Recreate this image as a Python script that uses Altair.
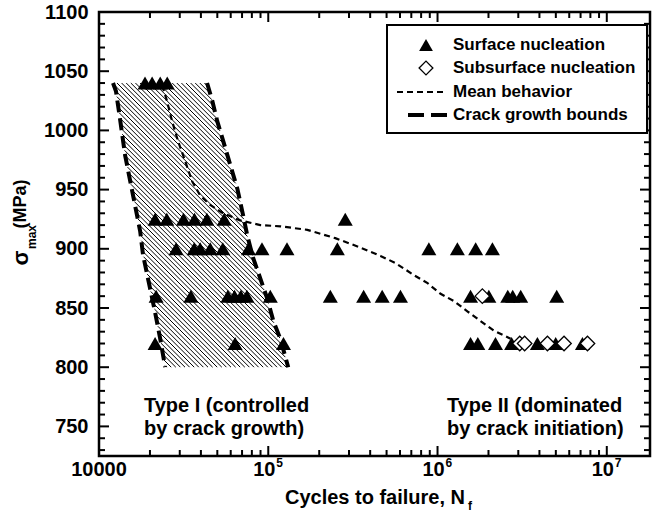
import altair as alt
import pandas as pd
import numpy as np

# ---------------- data ----------------
# Surface nucleation (filled triangles), grouped by stress level (MPa)
surf_1040_N = [18700, 20600, 23000, 25300]
surf_925_N = [21450, 25150, 31550, 36650, 43400, 54900, 285000]
surf_900_N = [28550, 36500, 39600, 45400, 53900, 76400, 91800, 129000, 256000,
              889000, 1310000, 1680000, 2110000]
surf_860_N = [21750, 34900, 57700, 63200, 68900, 74800, 102800, 232600, 366000,
              471000, 604000, 1567000, 2010000, 2600000, 2780000, 3100000, 5060000]
surf_820_N = [21450, 63700, 123000, 1567000, 1730000, 2200000, 2740000, 3890000,
              4990000, 7180000]

# Subsurface nucleation (open diamonds)
sub_860_N = [1840000]
sub_820_N = [3060000, 3270000, 4460000, 5590000, 7690000]

# Mean behavior curve
mean_N = [23600, 25200, 27000, 29300, 32300, 35500, 39600, 45400, 54200, 68200,
          89700, 117800, 170200, 248900, 336500, 460300, 563600, 721100, 873000,
          1042000, 1245000, 1507000, 1795000, 2143000, 2704000]
mean_S = [1038, 1025, 1008, 991, 974, 957, 945, 937, 930, 924, 920, 919, 916, 909,
          902, 894, 888, 878, 871, 862, 856, 847, 839, 831, 824]

# Crack growth bounds
left_bound_N = [12100, 12600, 13300, 14260, 15900, 17500, 18200, 20000, 21400, 23000, 24600]
left_bound_S = [1040, 1033, 1010, 979, 945, 915, 895, 867, 847, 824, 800]
right_bound_N = [43500, 46700, 49900, 54200, 59600, 65600, 71100, 75200, 81500, 89700,
                 98600, 107200, 117800, 131200]
right_bound_S = [1040, 1025, 1008, 991, 971, 951, 928, 911, 892, 875, 858, 839, 824, 800]

# Axis ticks
y_major = [750, 800, 850, 900, 950, 1000, 1050, 1100]
y_minor = [v for v in range(730, 1100, 10) if v % 50 != 0]
x_major = [1e5, 1e6, 1e7]
x_minor = [m * 10 ** k for k in (4, 5, 6) for m in range(2, 10)]
x_exp_labels = ["5", "6", "7"]

# ---------------- layout ----------------
W, H = 551, 444
XDOM = [1e4, 1.8e7]
YDOM = [725, 1100]
PX_DEC = W / np.log10(XDOM[1] / XDOM[0])
PX_MPA = H / (YDOM[1] - YDOM[0])
FONT = "Liberation Sans"
FS = 20

xs = alt.Scale(type="log", domain=XDOM, nice=False)
ys = alt.Scale(domain=YDOM, nice=False, zero=False)

def rows(Ns, S):
    return [{"N": n, "S": S} for n in Ns]

surf_df = pd.DataFrame(rows(surf_1040_N, 1040) + rows(surf_925_N, 925) + rows(surf_900_N, 900)
                       + rows(surf_860_N, 860) + rows(surf_820_N, 820))
sub_df = pd.DataFrame(rows(sub_860_N, 860) + rows(sub_820_N, 820))
mean_df = pd.DataFrame({"N": mean_N, "S": mean_S, "o": range(len(mean_N))})
lb_df = pd.DataFrame({"N": left_bound_N, "S": left_bound_S, "o": range(len(left_bound_N))})
rb_df = pd.DataFrame({"N": right_bound_N, "S": right_bound_S, "o": range(len(right_bound_N))})

# hatch lines clipped to the region between the two bounds
sig = np.linspace(800, 1040, 2401)
L = np.interp(sig, left_bound_S[::-1], np.log10(left_bound_N)[::-1])
R = np.interp(sig, right_bound_S[::-1], np.log10(right_bound_N)[::-1])
Ypx = (YDOM[1] - sig) * PX_MPA
hatch = []
for c in np.arange(-200, 400, 4.6):
    u = 4 + (Ypx - c) / PX_DEC
    idx = np.where((u >= L) & (u <= R))[0]
    if len(idx) > 1:
        i0, i1 = idx[0], idx[-1]
        hatch.append({"N": 10 ** u[i0], "S": sig[i0], "N2": 10 ** u[i1], "S2": sig[i1]})
hatch_df = pd.DataFrame(hatch)

one = pd.DataFrame({"a": [0]})

yaxis = alt.Axis(values=y_major, format="d", ticks=False, domain=False, grid=False, title=None,
                 labelFont=FONT, labelFontSize=FS, labelFontWeight="bold",
                 labelColor="black", labelPadding=11)

X = lambda f: alt.X(f, scale=xs, axis=None)
Y = lambda f: alt.Y(f, scale=ys, axis=yaxis)

hatch_layer = alt.Chart(hatch_df).mark_rule(color="black", strokeWidth=1).encode(
    x=X("N:Q"), x2="N2:Q", y=Y("S:Q"), y2="S2:Q")

lb_layer = alt.Chart(lb_df).mark_line(color="black", strokeWidth=4, strokeDash=[12, 6]).encode(
    x=X("N:Q"), y=Y("S:Q"), order="o:Q")
rb_layer = alt.Chart(rb_df).mark_line(color="black", strokeWidth=4, strokeDash=[12, 6]).encode(
    x=X("N:Q"), y=Y("S:Q"), order="o:Q")
mean_layer = alt.Chart(mean_df).mark_line(color="black", strokeWidth=2.2, strokeDash=[6, 4]).encode(
    x=X("N:Q"), y=Y("S:Q"), order="o:Q")

surf_layer = alt.Chart(surf_df).mark_point(shape="triangle-up", filled=True, color="black",
                                           size=225, opacity=1).encode(x=X("N:Q"), y=Y("S:Q"))
sub_layer = alt.Chart(sub_df).mark_point(shape="diamond", filled=True, fill="white", stroke="black",
                                         strokeWidth=1.3, size=210, opacity=1).encode(
    x=X("N:Q"), y=Y("S:Q"))

# inward ticks on all four sides
ymaj_df = pd.DataFrame({"S": y_major})
ymin_df = pd.DataFrame({"S": y_minor})
xmaj_df = pd.DataFrame({"N": x_major})
xmin_df = pd.DataFrame({"N": x_minor})

def yticks(df, ln):
    l = alt.Chart(df).mark_rule(color="black", strokeWidth=2).encode(
        y=Y("S:Q"), x=alt.value(0), x2=alt.value(ln))
    r = alt.Chart(df).mark_rule(color="black", strokeWidth=2).encode(
        y=Y("S:Q"), x=alt.value(W), x2=alt.value(W - ln))
    return l + r

def xticks(df, ln):
    b = alt.Chart(df).mark_rule(color="black", strokeWidth=2).encode(
        x=X("N:Q"), y=alt.value(H), y2=alt.value(H - ln))
    t = alt.Chart(df).mark_rule(color="black", strokeWidth=2).encode(
        x=X("N:Q"), y=alt.value(0), y2=alt.value(ln))
    return b + t

ticks = yticks(ymaj_df, 10) + yticks(ymin_df, 6) + xticks(xmaj_df, 10) + xticks(xmin_df, 6)

# x tick labels
xlab_df = pd.DataFrame({"N": x_major, "e": x_exp_labels})
x10 = alt.Chart(xlab_df).mark_text(font=FONT, fontSize=FS, fontWeight="bold", color="black",
                                   align="center", baseline="middle", dx=-4, text="10").encode(
    x=X("N:Q"), y=alt.value(H + 14))
xexp = alt.Chart(xlab_df).mark_text(font=FONT, fontSize=12, fontWeight="bold", color="black",
                                    align="left", baseline="middle", dx=8).encode(
    x=X("N:Q"), y=alt.value(H + 7), text="e:N")
x1e4 = alt.Chart(pd.DataFrame({"N": [1e4]})).mark_text(
    font=FONT, fontSize=FS, fontWeight="bold", color="black", align="center",
    baseline="middle", text="10000").encode(x=X("N:Q"), y=alt.value(H + 14))

def label(txt, x, y, size=FS, align="left", angle=0):
    kw = dict(font=FONT, fontSize=size, fontWeight="bold", color="black", align=align,
              baseline="middle", text=txt)
    if angle:
        kw["angle"] = angle
    return alt.Chart(one).mark_text(**kw).encode(x=alt.value(x), y=alt.value(y))

texts = (label("Cycles to failure,  N", 366, H + 42, align="right")
         + label("f", 369, H + 50, size=12)
         + label("σ", -78, 246, size=22, align="center", angle=270)
         + label("max", -67, 225, size=12, align="center", angle=270)
         + label("(MPa)", -78, 192, size=18, align="center", angle=270)
         + label("Type I (controlled", 45, 394)
         + label("by crack growth)", 45, 417)
         + label("Type II (dominated", 348, 394)
         + label("by crack initiation)", 348, 417))

# legend
leg_box = alt.Chart(one).mark_rect(fill="white", stroke="black", strokeWidth=2).encode(
    x=alt.value(288), x2=alt.value(548), y=alt.value(13), y2=alt.value(121))
leg_tri = alt.Chart(one).mark_point(shape="triangle-up", filled=True, color="black", size=190,
                                    opacity=1).encode(x=alt.value(327), y=alt.value(33))
leg_dia = alt.Chart(one).mark_point(shape="diamond", filled=True, fill="white", stroke="black",
                                    strokeWidth=1.3, size=190, opacity=1).encode(
    x=alt.value(327), y=alt.value(56))
leg_mean = alt.Chart(one).mark_rule(color="black", strokeWidth=2, strokeDash=[6, 4]).encode(
    x=alt.value(298), x2=alt.value(348), y=alt.value(80))
leg_bound = alt.Chart(one).mark_rule(color="black", strokeWidth=4, strokeDash=[16, 7]).encode(
    x=alt.value(309), x2=alt.value(348), y=alt.value(103))
leg_text = (label("Surface nucleation", 354, 33, size=17)
            + label("Subsurface nucleation", 354, 56, size=17)
            + label("Mean behavior", 354, 80, size=17)
            + label("Crack growth bounds", 354, 103, size=17))
legend = leg_box + leg_tri + leg_dia + leg_mean + leg_bound + leg_text

chart = alt.layer(
    hatch_layer, lb_layer, rb_layer, mean_layer, ticks, surf_layer, sub_layer,
    x10, xexp, x1e4, texts, legend
).properties(
    width=W, height=H,
    autosize=alt.AutoSizeParams(type="none"),
    padding={"left": 99, "top": 12, "right": 4, "bottom": 73},
    background="white",
).configure_view(stroke="black", strokeWidth=2.5)

chart.save("out.html", embed_options={"renderer": "svg", "actions": False})
